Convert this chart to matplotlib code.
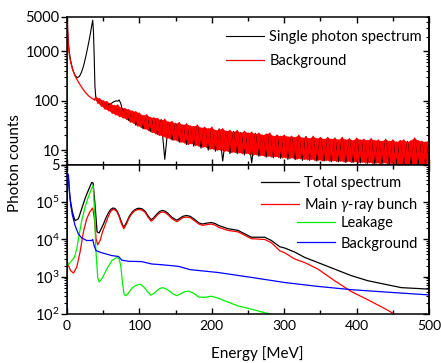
# Single photon / gamma-ray bunch spectra, two stacked log panels

import matplotlib
matplotlib.use('Agg')
import matplotlib.pyplot as plt
import numpy as np
from matplotlib.ticker import LogLocator, NullFormatter, MultipleLocator, FixedLocator

plt.rcParams['font.family'] = ['Lato', 'DejaVu Sans']
plt.rcParams['mathtext.fontset'] = 'custom'
plt.rcParams['mathtext.rm'] = 'Lato'
plt.rcParams['mathtext.it'] = 'Lato:italic'

# ---- top panel: single photon spectrum (smooth part, then noisy part every 5 MeV)
top_e_single = [0, 0.5, 1, 2, 3, 5, 8, 11, 14, 17, 20, 23, 26, 29, 32, 34, 35.5, 36.5,
                37.5, 38.5, 40, 45, 50, 55, 60, 64, 68, 70, 72, 74, 76, 78]
top_single = [5, 4300, 2500, 1400, 1000, 650, 420, 330, 295, 310, 380, 520, 800, 1300,
              2200, 3300, 4300, 2500, 800, 200, 105, 95, 88, 82, 86, 95, 100, 98, 104,
              90, 70, 62]
top_single_noise = [62, 40, 58, 32, 52, 27, 50, 24, 44, 21, 42, 6.5, 36, 16, 35, 14.5, 32,
                    13, 30, 12, 31, 11, 28, 10, 27, 9.5, 27, 6, 24, 8.5, 24, 8.5, 23, 8,
                    22, 5.5, 22, 7.5, 20, 7.2, 21, 7, 20, 6.8, 19, 6.5, 19, 6.4, 18, 6.2,
                    19, 6.2, 17.5, 6, 18, 6, 17, 5.8, 17, 5.8, 17.5, 5.6, 16, 5.6, 17, 5.5,
                    16, 5.4, 16.5, 5.3, 15.5, 5.3, 16, 5.2, 15.5, 5.1, 15, 5.1, 15, 5, 16,
                    5, 15, 5, 14.5]

# background (smooth part, then noisy part every 2.5 MeV from 40 MeV)
top_e_bg = [0, 0.5, 1, 2, 3, 5, 8, 11, 15, 20, 25, 30, 35, 38]
top_bg = [5, 4000, 2200, 1300, 900, 600, 420, 320, 250, 190, 150, 125, 110, 105]
top_bg_noise = [118, 90, 110, 78, 100, 68, 96, 63, 88, 56, 80, 52, 82, 48, 72, 45, 70, 42,
                66, 37, 62, 35, 60, 31, 56, 29, 50, 27, 52, 25, 46, 23, 45, 21.5, 44, 20,
                40, 19, 42, 17.5, 37, 17, 38, 16, 34, 15.5, 36, 14.5, 32, 14, 34, 13, 31,
                13.5, 30, 12.5, 32, 12, 28, 11.5, 29, 11.5, 27, 10.5, 29, 10.5, 25, 10,
                26, 10, 27, 9.5, 24, 9.5, 25, 9, 23, 9, 25, 8.8, 22, 8.5, 24, 8.6, 22,
                8.2, 23, 8, 21, 8, 22, 7.8, 20, 7.6, 21, 7.5, 22, 7.3, 19, 7.4, 20, 7.1,
                19, 7, 20, 7, 18.5, 6.8, 19, 6.9, 18, 6.6, 20, 6.7, 17.5, 6.5, 18.5, 6.4,
                17, 6.5, 19, 6.2, 17, 6.3, 18, 6.1, 16.5, 6.2, 18, 6, 16.5, 6.1, 17.5,
                5.9, 16, 6, 18, 5.8, 16, 5.9, 17, 5.7, 15.5, 5.8, 17.5, 5.6, 16, 5.7,
                16.5, 5.5, 15.5, 5.6, 17, 5.4, 15.5, 5.5, 16, 5.3, 15, 5.5, 16.5, 5.3,
                15, 5.4, 16, 5.2, 14.5, 5.3, 15.5, 5.1, 16, 5.2, 14.5, 5.1, 15.5, 5.2,
                17.5, 5, 15.5, 5.1, 15, 5, 14.5, 5.1, 15.5]

# ---- bottom panel
e_total = [0, 0.5, 1.9, 4.2, 7.4, 11, 15.7, 20.3, 24.9, 29.5, 34.1, 36, 38.7, 41.5, 44.3,
           47, 50.3, 54, 57.2, 60, 63.2, 66, 68.7, 71.5, 74.7, 78, 80, 82.6, 86, 89.5, 93,
           97, 100, 104, 107.9, 112, 116.1, 119, 124, 128, 132, 136, 140, 145, 151.6, 155,
           160, 165, 170, 176, 182, 187, 193, 199, 204, 210, 222.4, 236.2, 254.6, 273,
           282.2, 293.7, 300.6, 314.4, 328.2, 346.6, 369.6, 392.6, 415.6, 438.7, 461.7,
           500]
total = [100, 4.8e5, 4.4e5, 1.26e5, 5.5e4, 3.2e4, 3.6e4, 6.7e4, 1.26e5, 2.1e5, 3.4e5,
         3.3e5, 8.3e4, 1.6e4, 1.5e4, 1.9e4, 2.6e4, 3.9e4, 5.2e4, 6.3e4, 7.0e4, 6.8e4,
         6.0e4, 4.6e4, 3.1e4, 2.15e4, 2.4e4, 3.0e4, 4.2e4, 5.3e4, 6.2e4, 6.8e4, 6.9e4,
         6.6e4, 5.7e4, 4.3e4, 3.4e4, 3.7e4, 4.8e4, 5.7e4, 6.0e4, 5.7e4, 4.9e4, 3.9e4,
         3.3e4, 3.6e4, 4.2e4, 4.4e4, 4.2e4, 3.5e4, 2.8e4, 2.6e4, 2.75e4, 2.85e4, 2.7e4,
         2.35e4, 1.95e4, 1.75e4, 1.15e4, 1.15e4, 9.4e3, 6.4e3, 5.9e3, 4.6e3, 3.3e3,
         2.4e3, 1.6e3, 1.07e3, 780, 630, 510, 465]

e_main = [0.5, 1.9, 5.1, 8.8, 13.4, 18, 22.6, 27.2, 31.8, 35.5, 37.8, 40.1, 42.4, 45.7,
          49, 52.5, 56, 60, 64, 66, 68.7, 71.5, 74.7, 78.2, 80, 82.6, 86, 89.5, 93, 97,
          100, 104, 107.9, 112, 116.1, 119, 124, 128, 132, 136, 140, 145, 151.6, 155, 160,
          165, 170, 176, 182, 187, 193, 199, 204, 210, 222.4, 236.2, 254.6, 273, 282.2,
          293.7, 300.6, 314.4, 328.2, 346.6, 369.6, 392.6, 415.6, 438.7, 450, 458]
main = [2500, 2000, 1450, 1260, 1800, 4600, 1.6e4, 3.6e4, 5.7e4, 7e4, 3.6e4, 1.05e4,
        7.2e3, 9.4e3, 1.6e4, 2.4e4, 3.7e4, 5.6e4, 6.5e4, 6.3e4, 5.6e4, 4.3e4, 2.8e4,
        1.95e4, 2.2e4, 2.75e4, 3.9e4, 4.9e4, 5.8e4, 6.3e4, 6.4e4, 6.1e4, 5.3e4, 3.95e4,
        3.1e4, 3.4e4, 4.4e4, 5.2e4, 5.5e4, 5.2e4, 4.5e4, 3.6e4, 3.0e4, 3.3e4, 3.85e4,
        4.0e4, 3.85e4, 3.2e4, 2.6e4, 2.4e4, 2.5e4, 2.6e4, 2.45e4, 2.1e4, 1.75e4, 1.6e4,
        1.05e4, 1.0e4, 8.2e3, 5e3, 4.4e3, 3e3, 2.4e3, 1.6e3, 780, 400, 240, 140, 105, 90]

e_leak = [0, 0.5, 2.8, 6.4, 10.1, 13.4, 16.6, 20.3, 24.9, 29.5, 34.1, 36, 37.8, 39.7,
          42.4, 44.3, 48, 54.9, 61.8, 68.7, 71.9, 74.2, 76.5, 78.8, 81.1, 84, 87.1, 90,
          94, 100, 103, 106.9, 111, 116.1, 120, 124, 128, 131.8, 136, 141, 146, 151.6,
          157, 163, 168, 175, 182, 190, 199, 205, 210, 218, 236, 254.6, 273, 285]
leak = [100, 2000, 2200, 2700, 3300, 5600, 1.3e4, 3.2e4, 7.4e4, 1.4e5, 2.4e5, 2.8e5,
        6.8e4, 5.6e3, 950, 730, 870, 1600, 2700, 3300, 3000, 2000, 700, 340, 310, 350,
        420, 500, 570, 630, 600, 510, 400, 320, 360, 420, 480, 510, 480, 420, 350, 310,
        350, 400, 410, 360, 285, 280, 300, 280, 260, 225, 165, 135, 108, 95]

e_bg = [0, 0.5, 1.9, 3.3, 5.1, 7.4, 11, 15.7, 20.3, 27.2, 34.1, 35.5, 37.4, 40.1, 48,
        61.8, 71, 75.6, 84.8, 103, 117, 131, 154, 170, 208.6, 254.6, 300.6, 346.6,
        392.6, 438.7, 500]
bg = [100, 6e5, 5.4e5, 1.9e5, 8.3e4, 4.5e4, 2.4e4, 1.4e4, 1.1e4, 9.4e3, 9.4e3, 1e4,
      6.9e3, 5e3, 4.4e3, 3.7e3, 3.5e3, 2.8e3, 2.6e3, 2.55e3, 2.2e3, 2.1e3, 1.9e3, 1.55e3,
      1.3e3, 960, 700, 550, 450, 390, 325]

top_yticks = [5, 10, 100, 1000, 5000]
bot_yticks = [1e2, 1e3, 1e4, 1e5, 1e6]
bot_ylabels = ['$10^{2}$', '$10^{3}$', '$10^{4}$', '$10^{5}$', '']
xticks = [0, 100, 200, 300, 400, 500]

fig = plt.figure(figsize=(4.41, 3.63), dpi=100)
ax1 = fig.add_axes([0.152, 0.5455, 0.821, 0.4077])
ax2 = fig.add_axes([0.152, 0.135, 0.821, 0.4105])

# top
e_single_noise = 80 + 5 * np.arange(len(top_single_noise))
e_bg_noise = list(40 + 2.5 * np.arange(len(top_bg_noise)))
ax1.plot(top_e_single + list(e_single_noise), top_single + top_single_noise,
         color='black', lw=0.8, label='Single photon spectrum')
ax1.plot(top_e_bg, top_bg, color='#ff0000', lw=0.9)
# noisy background: the peaks and dips as one filled band, plus the trace itself
ax1.fill(e_bg_noise[::2] + e_bg_noise[1::2][::-1],
         top_bg_noise[::2] + top_bg_noise[1::2][::-1], color='#ff0000', lw=0)
ax1.plot([top_e_bg[-1]] + e_bg_noise, [top_bg[-1]] + top_bg_noise,
         color='#ff0000', lw=1.1)
ax1.plot([], [], color='#ff0000', lw=0.9, label='Background')
ax1.set_yscale('log')
ax1.set_ylim(5, 5000)
ax1.yaxis.set_major_locator(FixedLocator(top_yticks))
ax1.set_yticklabels([str(t) for t in top_yticks])
ax1.yaxis.set_minor_locator(LogLocator(base=10, subs=np.arange(2, 10)))
ax1.yaxis.set_minor_formatter(NullFormatter())
ax1.legend(loc='upper left', bbox_to_anchor=(0.44, 0.91), frameon=False, fontsize=10.5,
           handlelength=2.6, handletextpad=0.35, labelspacing=0.65, borderpad=0,
           borderaxespad=0)

# bottom
ax2.plot(e_total, total, color='black', lw=0.9, label='Total spectrum')
ax2.plot(e_main, main, color='#ff0000', lw=0.9, label='Main $\\gamma$-ray bunch')
ax2.plot(e_leak, leak, color='#00f000', lw=0.9, label='Leakage')
ax2.plot(e_bg, bg, color='#0000ff', lw=0.9, label='Background')
ax2.set_yscale('log')
ax2.set_ylim(1e2, 1e6)
ax2.yaxis.set_major_locator(FixedLocator(bot_yticks))
ax2.set_yticklabels(bot_ylabels)
ax2.yaxis.set_minor_locator(LogLocator(base=10, subs=np.arange(2, 10)))
ax2.yaxis.set_minor_formatter(NullFormatter())
h, l = ax2.get_legend_handles_labels()
leg1 = ax2.legend(h[:2], l[:2], loc='upper left', bbox_to_anchor=(0.537, 0.928),
                  frameon=False, fontsize=10.5, handlelength=2.6, handletextpad=0.35,
                  labelspacing=0.42, borderpad=0, borderaxespad=0)
ax2.add_artist(leg1)
ax2.legend(h[2:], l[2:], loc='upper left', bbox_to_anchor=(0.636, 0.658),
           frameon=False, fontsize=10.5, handlelength=2.6, handletextpad=0.35,
           labelspacing=0.45, borderpad=0, borderaxespad=0)

for ax in (ax1, ax2):
    ax.set_xlim(0, 500)
    ax.xaxis.set_major_locator(FixedLocator(xticks))
    ax.xaxis.set_minor_locator(MultipleLocator(50))
    ax.tick_params(axis='x', which='both', direction='in', top=True, bottom=True)
    ax.tick_params(axis='x', which='major', length=4, width=1)
    ax.tick_params(axis='x', which='minor', length=3, width=1)
    ax.tick_params(axis='y', which='both', direction='out', right=False)
    ax.tick_params(axis='y', which='major', length=4, width=1, labelsize=10.5, pad=1.5)
    ax.tick_params(axis='y', which='minor', length=2.5, width=0.8)
    for s in ax.spines.values():
        s.set_linewidth(1.1)
    sec = ax.secondary_yaxis('right')
    sec.tick_params(axis='y', which='both', direction='in', labelright=False)
    sec.tick_params(axis='y', which='major', length=4, width=1)
    sec.tick_params(axis='y', which='minor', length=2.5, width=0.8)
    sec.spines['right'].set_linewidth(1.1)

ax1.tick_params(axis='x', labelbottom=False)
ax2.tick_params(axis='x', labelsize=10, pad=4)

fig.text(0.034, 0.55, 'Photon counts', rotation=90, ha='center', va='center', fontsize=11)
fig.text(0.583, 0.027, 'Energy [MeV]', ha='center', va='center', fontsize=11)

fig.savefig('out.png', dpi=100)
